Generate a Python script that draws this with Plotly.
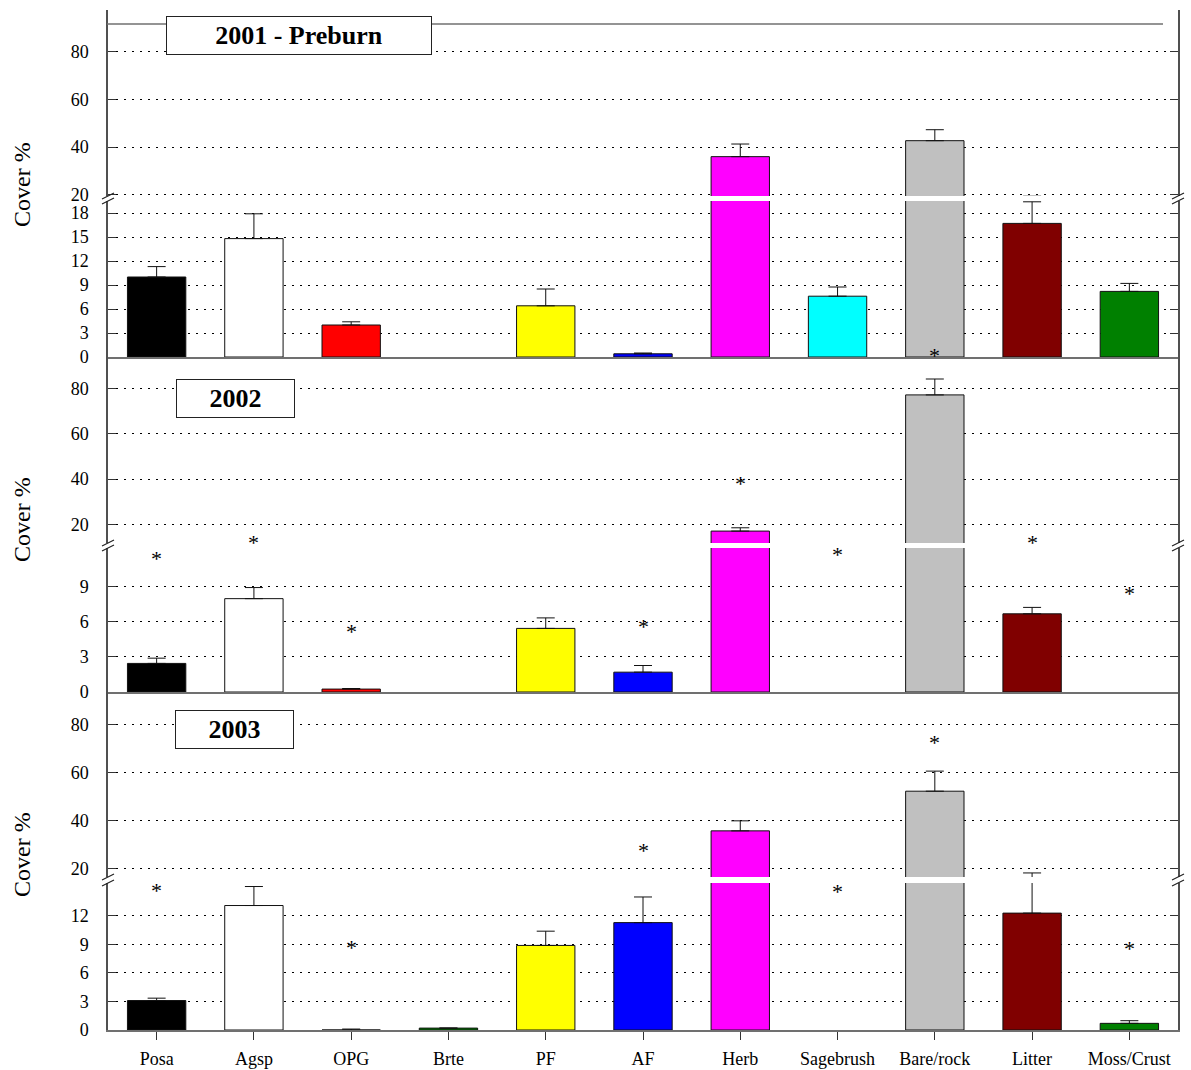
import plotly.graph_objects as go

# ---------------- data ----------------
categories = ["Posa", "Agsp", "OPG", "Brte", "PF", "AF", "Herb", "Sagebrush",
              "Bare/rock", "Litter", "Moss/Crust"]
bar_colors = ["#000000", "#FFFFFF", "#FF0000", "#008000", "#FFFF00", "#0000FF",
              "#FF00FF", "#00FFFF", "#C0C0C0", "#800000", "#008000"]

cover_2001 = [10.0, 14.8, 4.0, None, 6.4, 0.4, 36.0, 7.6, 42.7, 16.7, 8.2]
se_2001 = [1.3, 3.1, 0.4, None, 2.1, 0.1, 5.3, 1.15, 4.6, 2.7, 1.0]
star_2001 = [None] * 11

cover_2002 = [2.45, 8.0, 0.25, None, 5.45, 1.7, 17.1, None, 77.1, 6.7, None]
se_2002 = [0.45, 0.95, 0.05, None, 0.9, 0.57, 1.45, None, 7.0, 0.55, None]
star_2002 = [11.5, 12.6, 5.3, None, None, 5.7, 38.7, 11.9, 94.7, 12.45, 8.5]

cover_2003 = [3.1, 13.1, 0.0, 0.2, 8.9, 11.3, 35.7, None, 52.3, 12.3, 0.7]
se_2003 = [0.25, 2.0, 0.1, 0.0, 1.5, 2.7, 4.2, None, 8.4, 5.8, 0.28]
star_2003 = [14.8, None, 8.8, None, None, 27.7, None, 14.7, 73.3, None, 8.7]

panel_titles = ["2001 - Preburn", "2002", "2003"]
upper_ticks = [20, 40, 60, 80]
lower_ticks = [[0, 3, 6, 9, 12, 15, 18], [0, 3, 6, 9], [0, 3, 6, 9, 12]]
y_title = "Cover %"
star_mark = "*"

# ---------------- geometry (pixels) ----------------
W, H = 1191, 1070
ML, MR, MT, MB = 108, 13, 10, 40
PW = W - ML - MR
PH = H - MT - MB


def py(ypx):
    return (H - MB - ypx) / PH


def px(xpx):
    return (xpx - ML) / PW


# per panel: upper domain (top, bottom px), upper range, lower domain, lower range
panels = [
    dict(up=(10, 196), up_range=[19.5, 97.5], lo=(201, 357), lo_range=[0, 19.5],
         box=(299, 35, 264), title_y=185),
    dict(up=(352, 543), up_range=[11.85, 96.0], lo=(548, 692), lo_range=[0, 12.34],
         box=(235, 398, 117), title_y=520),
    dict(up=(692, 877), up_range=[16.4, 93.8], lo=(883, 1030), lo_range=[0, 15.47],
         box=(234, 730, 117), title_y=855),
]
series = [(cover_2001, se_2001, star_2001), (cover_2002, se_2002, star_2002),
          (cover_2003, se_2003, star_2003)]

FONT = "Liberation Serif"
fig = go.Figure()
layout = dict(
    width=W, height=H, margin=dict(l=ML, r=MR, t=MT, b=MB, autoexpand=False),
    paper_bgcolor="white", plot_bgcolor="rgba(0,0,0,0)",
    showlegend=False, font=dict(family=FONT, color="black"),
)
annotations, shapes = [], []

for p, (geo, (vals, errs, stars)) in enumerate(zip(panels, series)):
    iu, il = 2 * p + 1, 2 * p + 2
    for idx, dom, rng, ticks in [(iu, geo["up"], geo["up_range"], upper_ticks),
                                 (il, geo["lo"], geo["lo_range"], lower_ticks[p])]:
        xs = "x" if idx == 1 else f"x{idx}"
        ys = "y" if idx == 1 else f"y{idx}"
        fig.add_trace(go.Bar(
            x=categories, y=vals, xaxis=xs, yaxis=ys, width=0.6,
            marker=dict(color=bar_colors, line=dict(color="#111111", width=1)),
            error_y=dict(type="data", array=errs, arrayminus=[0] * len(errs),
                         symmetric=False, visible=True, color="#111111",
                         thickness=1, width=9),
            hoverinfo="skip",
        ))
        is_lower = idx == il
        xa = dict(domain=[0, 1], anchor=ys, type="category",
                  categoryorder="array", categoryarray=categories,
                  range=[-0.5, 10.5], showgrid=False, zeroline=False,
                  showline=is_lower, linecolor="#707070", linewidth=2,
                  ticks="outside" if (is_lower and p == 2) else "",
                  ticklen=8, tickcolor="#333333",
                  showticklabels=(is_lower and p == 2),
                  tickfont=dict(family=FONT, size=18, color="black"),
                  ticklabelstandoff=3, automargin=False)
        ya = dict(domain=[py(dom[1]), py(dom[0])], anchor=xs, range=rng,
                  tickvals=ticks, ticks="inside", ticklen=8, tickcolor="#333333",
                  showline=True, linecolor="#505050", linewidth=1.5, mirror="ticks",
                  showgrid=True, gridcolor="#000000", griddash="2px,6px", gridwidth=1,
                  zeroline=False, tickfont=dict(family=FONT, size=18, color="black"),
                  ticklabelstandoff=14, automargin=False)
        layout["xaxis" if idx == 1 else f"xaxis{idx}"] = xa
        layout["yaxis" if idx == 1 else f"yaxis{idx}"] = ya

    # significance stars, placed in the segment whose range contains them
    lo_top = geo["lo_range"][1]
    for c, s in zip(categories, stars):
        if s is None:
            continue
        k = il if s <= lo_top else iu
        annotations.append(dict(
            text=star_mark, x=c, y=s,
            xref="x" if k == 1 else f"x{k}", yref="y" if k == 1 else f"y{k}",
            showarrow=False, xanchor="center", yanchor="middle", yshift=-1,
            font=dict(family=FONT, size=22, color="black")))

    # panel title box
    bx, by, bw = geo["box"]
    annotations.append(dict(
        text=f"<b>{panel_titles[p]}</b>", xref="paper", yref="paper",
        x=px(bx), y=py(by), xanchor="center", yanchor="middle", showarrow=False,
        font=dict(family=FONT, size=26, color="black"), bgcolor="white",
        bordercolor="#222222", borderwidth=1, borderpad=0, width=bw, height=37))
    # y axis title
    annotations.append(dict(
        text=y_title, xref="paper", yref="paper", x=px(22), y=py(geo["title_y"]),
        xanchor="center", yanchor="middle", showarrow=False, textangle=-90,
        font=dict(family=FONT, size=24, color="black")))
    # axis-break marks
    for yb in (geo["up"][1], geo["lo"][0]):
        for xe in (ML, ML + PW):
            shapes.append(dict(type="line", xref="paper", yref="paper",
                               x0=px(xe - 6), x1=px(xe + 6), y0=py(yb + 3), y1=py(yb - 3),
                               line=dict(color="#222222", width=1.2)))

# top frame line of first panel
shapes.append(dict(type="line", xref="paper", yref="paper", x0=px(107), x1=px(1163),
                   y0=py(24), y1=py(24), line=dict(color="#707070", width=1.5)))

layout["annotations"] = annotations
layout["shapes"] = shapes
fig.update_layout(**layout)
fig.write_html("out.html", config={"displayModeBar": False},
               post_script="document.body.style.margin='0px';document.body.style.padding='0px';")
